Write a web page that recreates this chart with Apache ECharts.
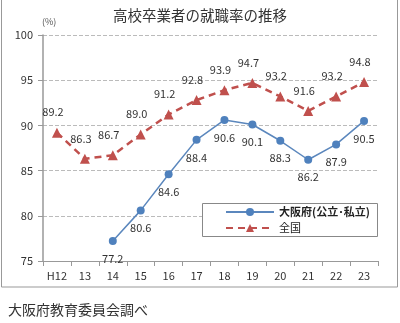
<!DOCTYPE html>
<html><head><meta charset="utf-8">
<script src="https://cdn.jsdelivr.net/npm/echarts@6/dist/echarts.min.js"></script>
<style>html,body{margin:0;padding:0;background:#fff}#c{width:400px;height:323px}</style>
</head><body><div id="c"></div>
<script>
const categories = ['H12','13','14','15','16','17','18','19','20','21','22','23'];
const osaka = [null,null,77.2,80.6,84.6,88.4,90.6,90.1,88.3,86.2,87.9,90.5];
const national = [89.2,86.3,86.7,89.0,91.2,92.8,93.9,94.7,93.2,91.6,93.2,94.8];
const yTicks = [75,80,85,90,95,100];
const osakaName = '大阪府(公立･私立)';
const nationalName = '全国';
const font = '"Noto Sans CJK JP", sans-serif';
const fmt = p => Number(p.value).toFixed(1);
const chart = echarts.init(document.getElementById('c'));
chart.setOption({
  animation:false,
  textStyle:{fontFamily:font},
  title:{text:'高校卒業者の就職率の推移',left:'center',top:3,textStyle:{fontSize:14.5,fontWeight:'normal',color:'#333',fontFamily:font}},
  graphic:[
    {type:'rect',shape:{x:1.5,y:-2,width:396,height:289},style:{fill:'none',stroke:'#999',lineWidth:1}},
    {type:'text',left:42,top:17,style:{text:'(%)',fontSize:9,fill:'#555',fontFamily:font}},
    {type:'text',left:8,top:303,style:{text:'大阪府教育委員会調べ',fontSize:14,fill:'#333',fontFamily:font}},
    {type:'rect',shape:{x:202.5,y:203.5,width:175,height:33},style:{fill:'#fff',stroke:'#888',lineWidth:1},z:10}
  ],
  legend:{orient:'vertical',left:220,top:203,padding:[2,5,2,5],itemGap:2,itemWidth:48,itemHeight:10,z:20,
    textStyle:{fontSize:11,color:'#222',fontFamily:font,lineHeight:14},
    data:[{name:osakaName,textStyle:{fontWeight:'bold'}},{name:nationalName}]},
  grid:{left:43,right:22,top:35,bottom:62,containLabel:false},
  xAxis:{type:'category',data:categories,boundaryGap:true,
    axisLine:{lineStyle:{color:'#999'}},axisTick:{show:true,alignWithLabel:false,lineStyle:{color:'#999'}},
    axisLabel:{fontSize:11,color:'#333',margin:9}},
  yAxis:{type:'value',min:75,max:100,interval:5,
    axisLine:{show:true,lineStyle:{color:'#999',width:1.5}},axisTick:{show:true,lineStyle:{color:'#999'}},
    axisLabel:{fontSize:11,color:'#333',margin:10},
    splitLine:{lineStyle:{type:'dashed',color:'#bbb'}}},
  series:[
    {name:osakaName,type:'line',data:osaka,symbol:'circle',symbolSize:8,
      itemStyle:{color:'#4f81bd'},lineStyle:{color:'#5b87bd',width:1.5},
      label:{show:true,position:'bottom',distance:8,fontSize:11,color:'#333',formatter:fmt}},
    {name:nationalName,type:'line',data:national,symbol:'triangle',symbolSize:10,
      itemStyle:{color:'#c0504d'},lineStyle:{color:'#c0504d',width:2.5,type:[7,5]},
      label:{show:true,position:'top',distance:10,offset:[-4,0],fontSize:11,color:'#333',formatter:fmt}}
  ]
});
</script></body></html>
